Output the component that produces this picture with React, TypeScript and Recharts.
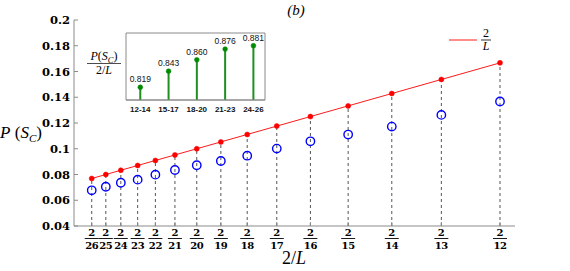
import React from "react";
import {
  ComposedChart,
  LabelList,
  Line,
  ReferenceArea,
  ReferenceLine,
  XAxis,
  YAxis,
} from "recharts";

// system sizes L, and the x position 2/L for each
const sizes = [26, 25, 24, 23, 22, 21, 20, 19, 18, 17, 16, 15, 14, 13, 12];
const twoOverL = [
  0.0769, 0.08, 0.0833, 0.087, 0.0909, 0.0952, 0.1, 0.1053, 0.1111, 0.1176,
  0.125, 0.1333, 0.1429, 0.1538, 0.1667,
];
// measured P(S_C)
const pSc = [
  0.0677, 0.0705, 0.0736, 0.076, 0.0799, 0.0835, 0.0872, 0.0905, 0.0946,
  0.1001, 0.1058, 0.111, 0.1172, 0.1263, 0.1367,
];
const yTicks = [0.04, 0.06, 0.08, 0.1, 0.12, 0.14, 0.16, 0.18, 0.2];

// inset: P(S_C)/(2/L) averaged over groups of L
const groups = ["12-14", "15-17", "18-20", "21-23", "24-26"];
const ratios = [0.819, 0.843, 0.86, 0.876, 0.881];

const AXIS = "#8a8a8a";
const SERIF = "'Liberation Serif', 'DejaVu Serif', serif";
const BOLD_NUM = "'DejaVu Serif', serif";
const SANS = "'Liberation Sans', Arial, sans-serif";
const INSET_X: [number, number] = [-0.505, 4.41];
const INSET_Y: [number, number] = [0.8, 0.9];

const mainData = sizes.map((L, i) => ({
  L,
  x: twoOverL[i],
  line: twoOverL[i],
  p: pSc[i],
}));

const insetData = groups.map((g, i) => ({ i, g, r: ratios[i] }));

const FracTick = (props: any) => {
  const { x, y, index } = props;
  return (
    <g transform={`translate(${x},${y})`}>
      <text
        y={9.5}
        textAnchor="middle"
        fontFamily={BOLD_NUM}
        fontWeight="bold"
        fontSize={10}
        fill="#000"
      >
        2
      </text>
      <line x1={-7} x2={7} y1={12.5} y2={12.5} stroke="#000" strokeWidth={0.9} />
      <text
        y={22.5}
        textAnchor="middle"
        fontFamily={BOLD_NUM}
        fontWeight="bold"
        fontSize={10}
        letterSpacing={-0.4}
        fill="#000"
      >
        {sizes[index]}
      </text>
    </g>
  );
};

function Inset() {
  return (
    <ComposedChart
      width={195}
      height={100}
      data={insetData}
      margin={{ top: 13, right: 10, bottom: 0, left: 46 }}
    >
      <ReferenceArea
        x1={INSET_X[0]}
        x2={INSET_X[1]}
        y1={INSET_Y[0]}
        y2={INSET_Y[1]}
        fill="#fff"
        fillOpacity={1}
        stroke={AXIS}
        strokeWidth={1}
      />
      <XAxis
        dataKey="i"
        type="number"
        domain={INSET_X}
        allowDataOverflow
        ticks={[0, 1, 2, 3, 4]}
        tickFormatter={(v) => groups[v]}
        height={20}
        axisLine={{ stroke: AXIS }}
        tickLine={false}
        tickSize={0}
        tickMargin={6}
        tick={{ fill: "#111", fontSize: 8, fontWeight: "bold", fontFamily: SANS }}
      />
      <XAxis
        xAxisId="top"
        orientation="top"
        dataKey="i"
        type="number"
        domain={INSET_X}
        allowDataOverflow
        ticks={[0, 1, 2, 3, 4]}
        height={0}
        axisLine={{ stroke: AXIS }}
        tickLine={{ stroke: AXIS }}
        tickSize={3}
        tick={false}
      />
      <YAxis
        type="number"
        domain={INSET_Y}
        allowDataOverflow
        ticks={[0.85]}
        width={0}
        axisLine={{ stroke: AXIS }}
        tickLine={{ stroke: AXIS }}
        tickSize={3}
        tick={false}
      />
      <YAxis
        yAxisId="right"
        orientation="right"
        type="number"
        domain={INSET_Y}
        allowDataOverflow
        ticks={[0.85]}
        width={0}
        axisLine={{ stroke: AXIS }}
        tickLine={false}
        tick={false}
      />
      {insetData.map((d) => (
        <ReferenceLine
          key={d.g}
          segment={[
            { x: d.i, y: INSET_Y[0] },
            { x: d.i, y: d.r },
          ]}
          stroke="#1f8f1f"
          strokeWidth={2}
        />
      ))}
      <Line
        dataKey="r"
        stroke="none"
        isAnimationActive={false}
        dot={{ r: 2.4, fill: "#008a00", stroke: "#008a00", strokeWidth: 0.5 }}
      >
        <LabelList
          dataKey="r"
          position="top"
          offset={5}
          formatter={(v: any) => Number(v).toFixed(3)}
          style={{ fontSize: 8.5, fontFamily: SANS, fill: "#111" }}
        />
      </Line>
    </ComposedChart>
  );
}

export default function App() {
  return (
    <div style={{ position: "absolute", left: 0, top: 0, width: 570, height: 271, background: "#fff" }}>
      <ComposedChart
        width={570}
        height={271}
        data={mainData}
        margin={{ top: 20, right: 55, bottom: 0, left: 0 }}
      >
        <XAxis
          dataKey="x"
          type="number"
          domain={[0.073, 0.17]}
          allowDataOverflow
          ticks={twoOverL}
          interval={0}
          height={45}
          stroke={AXIS}
          tickSize={-4}
          tickMargin={4}
          tick={<FracTick />}
        />
        <XAxis
          xAxisId="top"
          orientation="top"
          dataKey="x"
          type="number"
          domain={[0.073, 0.17]}
          allowDataOverflow
          ticks={twoOverL}
          interval={0}
          height={0}
          stroke={AXIS}
          tickSize={-4}
          tick={false}
        />
        <YAxis
          type="number"
          domain={[0.04, 0.2]}
          allowDataOverflow
          ticks={yTicks}
          interval={0}
          width={74}
          stroke={AXIS}
          tickSize={-4}
          tickMargin={8}
          tickFormatter={(v) => String(parseFloat(Number(v).toFixed(2)))}
          tick={{ fill: "#000", fontSize: 11.5, fontWeight: "bold", fontFamily: BOLD_NUM }}
        />
        <YAxis
          yAxisId="right"
          orientation="right"
          type="number"
          domain={[0.04, 0.2]}
          ticks={yTicks}
          interval={0}
          width={0}
          stroke={AXIS}
          tickSize={-4}
          tick={false}
        />
        {mainData.map((d) => (
          <ReferenceLine
            key={d.L}
            segment={[
              { x: d.x, y: 0.04 },
              { x: d.x, y: d.line },
            ]}
            stroke="#555"
            strokeWidth={1}
            strokeDasharray="3 3"
          />
        ))}
        <Line
          dataKey="line"
          type="linear"
          stroke="#ff1a1a"
          strokeWidth={1}
          isAnimationActive={false}
          dot={{ r: 2.5, fill: "#ff0000", stroke: "#ff0000", strokeWidth: 0.5 }}
        />
        <Line
          dataKey="p"
          stroke="none"
          isAnimationActive={false}
          dot={{ r: 4.2, fill: "none", stroke: "#0000ff", strokeWidth: 1.4 }}
        />
      </ComposedChart>

      <div style={{ position: "absolute", left: 80, top: 20 }}>
        <Inset />
      </div>

      <svg
        width={570}
        height={271}
        style={{ position: "absolute", left: 0, top: 0, pointerEvents: "none" }}
      >
        {/* title */}
        <text x={296} y={15} textAnchor="middle" fontFamily={SERIF} fontStyle="italic" fontSize={15}>
          (b)
        </text>

        {/* y label */}
        <text x={21} y={138} textAnchor="middle" fontFamily={SERIF} fontSize={17}>
          <tspan fontStyle="italic">P</tspan>
          <tspan> (</tspan>
          <tspan fontStyle="italic">S</tspan>
          <tspan fontStyle="italic" fontSize={11} dy={3.5}>C</tspan>
          <tspan dy={-3.5}>)</tspan>
        </text>

        {/* x label */}
        <text x={294} y={264} textAnchor="middle" fontFamily={SERIF} fontSize={18}>
          <tspan>2/</tspan>
          <tspan fontStyle="italic">L</tspan>
        </text>

        {/* legend */}
        <line x1={449} x2={477} y1={40} y2={40} stroke="#ff1a1a" strokeWidth={1} />
        <text x={486} y={37} textAnchor="middle" fontFamily={SERIF} fontSize={12}>
          2
        </text>
        <line x1={481} x2={491} y1={40} y2={40} stroke="#000" strokeWidth={0.8} />
        <text x={486} y={49.5} textAnchor="middle" fontFamily={SERIF} fontStyle="italic" fontSize={12}>
          L
        </text>

        {/* inset y label */}
        <text x={104} y={60} textAnchor="middle" fontFamily={SERIF} fontSize={12}>
          <tspan fontStyle="italic">P</tspan>
          <tspan>(</tspan>
          <tspan fontStyle="italic">S</tspan>
          <tspan fontStyle="italic" fontSize={8.5} dy={2.5}>C</tspan>
          <tspan dy={-2.5}>)</tspan>
        </text>
        <line x1={87} x2={121} y1={63.5} y2={63.5} stroke="#000" strokeWidth={0.7} />
        <text x={104} y={74} textAnchor="middle" fontFamily={SERIF} fontSize={12}>
          <tspan>2/</tspan>
          <tspan fontStyle="italic">L</tspan>
        </text>
      </svg>
    </div>
  );
}
